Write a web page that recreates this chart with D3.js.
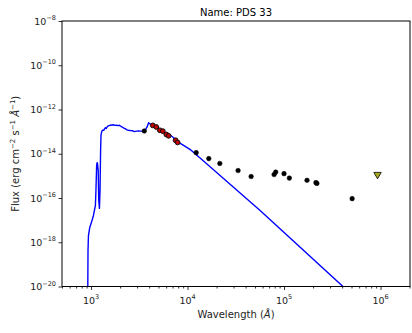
<!DOCTYPE html>
<html><head><meta charset="utf-8">
<script src="https://cdn.jsdelivr.net/npm/d3@7/dist/d3.min.js"></script>
<style>body{margin:0;background:#fff;} svg{display:block;font-family:"DejaVu Sans",sans-serif;}</style>
</head><body><div id="chart"></div>
<script>
// Model spectrum (wavelength in Å, flux in erg cm^-2 s^-1 Å^-1)
const specWave = [925,930,940,970,1010,1059,1110,1124,1143,1155,1165,1186,1201,1222,1239,1256,1268,1290,1312,1353,1380,1409,1440,1478,1530,1588,1640,1706,1760,1833,1900,1968,2040,2113,2190,2270,2350,2438,2560,2681,2800,2944,3100,3241,3400,3566,3700,3800,3951,4030,4115,4250,4419,4600,4826,5020,5224,5440,5652,5880,6124,6360,6625,6900,7165,7450,7760,8080,8405,9100,10670,12510,56500,420000];
const specFlux = [5.0e-21,4.27e-19,2.0e-18,4.68e-18,7.94e-18,1.62e-17,4.68e-17,2.24e-16,3.02e-15,3.98e-15,3.80e-15,1.78e-15,7.94e-17,3.39e-17,2.24e-16,1.45e-14,6.92e-14,1.0e-13,1.15e-13,1.15e-13,1.32e-13,1.51e-13,1.38e-13,1.74e-13,1.86e-13,1.95e-13,2.0e-13,2.04e-13,1.91e-13,1.95e-13,1.86e-13,1.95e-13,1.74e-13,1.58e-13,1.45e-13,1.35e-13,1.20e-13,1.15e-13,1.12e-13,1.10e-13,1.0e-13,1.05e-13,1.07e-13,1.05e-13,1.07e-13,1.10e-13,1.32e-13,1.58e-13,2.51e-13,2.29e-13,2.19e-13,2.0e-13,1.86e-13,1.70e-13,1.58e-13,1.38e-13,1.23e-13,1.10e-13,9.77e-14,8.51e-14,7.59e-14,7.24e-14,6.92e-14,6.03e-14,5.25e-14,4.68e-14,4.07e-14,3.47e-14,2.95e-14,2.40e-14,1.55e-14,8.51e-15,2.75e-17,8.9e-21];

// Photometry (black)
const photWave = [3565,12300,16600,21600,33400,45600,78900,82000,100000,113500,173000,214000,219000,508000];
const photFlux = [1.07e-13,1.12e-14,6.03e-15,3.63e-15,1.74e-15,9.33e-16,1.15e-15,1.48e-15,1.26e-15,7.94e-16,6.31e-16,4.95e-16,4.57e-16,9.33e-17];

// Photometry (red)
const redWave = [4365,4740,5160,5545,6030,6370,7520,7890];
const redFlux = [1.91e-13,1.62e-13,1.15e-13,1.05e-13,7.41e-14,6.46e-14,4.07e-14,3.24e-14];

// Upper limit
const ulWave = [931000];
const ulFlux = [1.15e-15];

const xTicks = [1e3,1e4,1e5,1e6];
const xTickExp = ["3","4","5","6"];
const yTicks = [1e-8,1e-10,1e-12,1e-14,1e-16,1e-18,1e-20];
const yTickExp = ["\u22128","\u221210","\u221212","\u221214","\u221216","\u221218","\u221220"];

const W = 412, H = 333;
const m = {l:62, r:2, t:21, b:46.5};
const svg = d3.select("#chart").append("svg").attr("width",W).attr("height",H);

const x = d3.scaleLog().domain([500, 2.02e6]).range([m.l, W-m.r]);
const y = d3.scaleLog().domain([1e-20, 1e-8]).range([H-m.b, m.t]);

svg.append("defs").append("clipPath").attr("id","clip")
  .append("rect").attr("x",m.l).attr("y",m.t).attr("width",W-m.r-m.l).attr("height",H-m.b-m.t);

const g = svg.append("g").attr("clip-path","url(#clip)");

const line = d3.line().x((d,i)=>x(specWave[i])).y((d,i)=>y(specFlux[i]));
g.append("path").datum(specWave).attr("d",line)
  .attr("fill","none").attr("stroke","#0000ff").attr("stroke-width",1.4).attr("stroke-linejoin","round");

g.selectAll("circle.phot").data(photWave).enter().append("circle")
  .attr("cx",(d)=>x(d)).attr("cy",(d,i)=>y(photFlux[i])).attr("r",2.3)
  .attr("fill","#000").attr("stroke","#000").attr("stroke-width",0.5);

g.selectAll("circle.red").data(redWave).enter().append("circle")
  .attr("cx",(d)=>x(d)).attr("cy",(d,i)=>y(redFlux[i])).attr("r",2.4)
  .attr("fill","#c00000").attr("stroke","#111").attr("stroke-width",1);

const tri = d3.symbol().type(d3.symbolTriangle).size(24);
g.selectAll("path.ul").data(ulWave).enter().append("path")
  .attr("d",tri)
  .attr("transform",(d,i)=>`translate(${x(d)},${y(ulFlux[i])}) rotate(180)`)
  .attr("fill","#a8a820").attr("stroke","#000").attr("stroke-width",0.8);

// frame
svg.append("rect").attr("x",m.l).attr("y",m.t).attr("width",W-m.r-m.l).attr("height",H-m.b-m.t)
  .attr("fill","none").attr("stroke","#000").attr("stroke-width",1);

// x axis
const xMinor = [];
for (let e=2;e<=6;e++) for (let k=2;k<=9;k++){ const v=k*Math.pow(10,e); if (v>=500 && v<=2.02e6) xMinor.push(v); }
const xAxisMinor = d3.axisBottom(x).tickValues(xMinor).tickSize(2).tickFormat("");
const xAxisMajor = d3.axisBottom(x).tickValues(xTicks).tickSize(3.5).tickFormat("");
const gxm = svg.append("g").attr("transform",`translate(0,${H-m.b})`).call(xAxisMinor);
const gx = svg.append("g").attr("transform",`translate(0,${H-m.b})`).call(xAxisMajor);
[gxm,gx].forEach(a=>{a.select(".domain").remove(); a.selectAll("line").attr("stroke","#000").attr("stroke-width",0.8);});

xTicks.forEach((v,i)=>{
  const t = svg.append("text").attr("x",x(v)).attr("y",H-m.b+17).attr("text-anchor","middle")
    .attr("font-size",9.5).attr("fill","#222");
  t.append("tspan").text("10");
  t.append("tspan").attr("dy",-4.5).attr("font-size",6.5).text(xTickExp[i]);
});

// y axis
const yAxis = d3.axisLeft(y).tickValues(yTicks).tickSize(3.5).tickFormat("");
const gy = svg.append("g").attr("transform",`translate(${m.l},0)`).call(yAxis);
gy.select(".domain").remove();
gy.selectAll("line").attr("stroke","#000").attr("stroke-width",0.8);
yTicks.forEach((v,i)=>{
  const t = svg.append("text").attr("x",m.l-6).attr("y",y(v)+3.5).attr("text-anchor","end")
    .attr("font-size",9.5).attr("fill","#222");
  t.append("tspan").text("10");
  t.append("tspan").attr("dy",-4.5).attr("font-size",6.5).text(yTickExp[i]);
});

// labels
svg.append("text").attr("x",(m.l+W-m.r)/2).attr("y",16).attr("text-anchor","middle")
  .attr("font-size",10).attr("fill","#000").text("Name: PDS 33");

const xl = svg.append("text").attr("x",(m.l+W-m.r)/2).attr("y",318).attr("text-anchor","middle")
  .attr("font-size",10).attr("fill","#222");
xl.append("tspan").text("Wavelength (");
xl.append("tspan").attr("font-style","italic").text("Å");
xl.append("tspan").text(")");

const yl = svg.append("text").attr("transform",`translate(19,${(m.t+H-m.b)/2}) rotate(-90)`)
  .attr("text-anchor","middle").attr("font-size",10).attr("fill","#222");
yl.append("tspan").text("Flux (erg cm");
yl.append("tspan").attr("dy",-4).attr("font-size",7).text("\u22122");
yl.append("tspan").attr("dy",4).text(" s");
yl.append("tspan").attr("dy",-4).attr("font-size",7).text("\u22121");
yl.append("tspan").attr("dy",4).text(" ");
yl.append("tspan").attr("font-style","italic").text("Å");
yl.append("tspan").attr("dy",-4).attr("font-size",7).text("\u22121");
yl.append("tspan").attr("dy",4).text(")");
</script></body></html>
